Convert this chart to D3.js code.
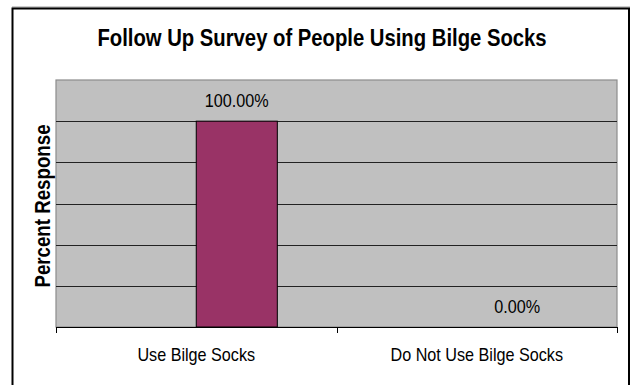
<!DOCTYPE html>
<html>
<head>
<meta charset="utf-8">
<script src="https://cdn.jsdelivr.net/npm/d3@7"></script>
<style>
  html, body { margin: 0; padding: 0; background: #fff; }
  svg { display: block; }
  text { font-family: "Liberation Sans", Arial, sans-serif; fill: #000; }
</style>
</head>
<body>
<svg id="chart" width="631" height="385"></svg>
<script>
const title = "Follow Up Survey of People Using Bilge Socks";
const yAxisTitle = "Percent Response";
const categories = ["Use Bilge Socks", "Do Not Use Bilge Socks"];
const seriesNames = ["Blank", "Response"];
const blankValues = [null, null];
const responseValues = [1.0, 0.0];
const yGridValues = [0, 0.2, 0.4, 0.6, 0.8, 1.0, 1.2];

const svg = d3.select("#chart");
const plot = { left: 56, top: 80, right: 617, bottom: 327 };
const SQ = 0.87; // horizontal squeeze of the original rendering

// outer frame
svg.append("line").attr("x1", 12).attr("x2", 630).attr("y1", 7).attr("y2", 7)
  .attr("stroke", "#9a9a9a").attr("stroke-width", 1);
svg.append("rect").attr("x", 12.5).attr("y", 8.5).attr("width", 616.5).attr("height", 400)
  .attr("fill", "none").attr("stroke", "#000").attr("stroke-width", 2);

const x0 = d3.scaleBand().domain(categories).range([plot.left, plot.right]).padding(0);
const x1 = d3.scaleBand().domain(seriesNames).range([0, x0.bandwidth()]).paddingInner(0).paddingOuter(0.73);
const y = d3.scaleLinear().domain([0, 1.2]).range([plot.bottom, plot.top]);

// plot background
svg.append("rect").attr("x", plot.left).attr("y", plot.top)
  .attr("width", plot.right - plot.left).attr("height", plot.bottom - plot.top)
  .attr("fill", "#c0c0c0").attr("stroke", "#8c8c8c").attr("stroke-width", 1.2);

// gridlines
svg.append("g").selectAll("line").data(yGridValues.filter(v => v > 0 && v < 1.2)).join("line")
  .attr("x1", plot.left).attr("x2", plot.right)
  .attr("y1", d => Math.round(y(d)) + 0.5).attr("y2", d => Math.round(y(d)) + 0.5)
  .attr("stroke", "#222").attr("stroke-width", 1);

// bars
const data = categories.map((c, i) => ({ cat: c, series: [
  { name: seriesNames[0], value: blankValues[i] },
  { name: seriesNames[1], value: responseValues[i] }
]}));

const groups = svg.append("g").selectAll("g").data(data).join("g")
  .attr("transform", d => `translate(${x0(d.cat)},0)`);

groups.selectAll("rect").data(d => d.series.filter(s => s.value != null && s.value > 0)).join("rect")
  .attr("x", s => x1(s.name))
  .attr("y", s => y(s.value))
  .attr("width", x1.bandwidth())
  .attr("height", s => y(0) - y(s.value))
  .attr("fill", "#993366").attr("stroke", "#000").attr("stroke-width", 1);

const fmt = d3.format(".2%");
groups.selectAll("text.val").data(d => d.series.filter(s => s.value != null)).join("text")
  .attr("class", "val")
  .attr("transform", s => `translate(${x1(s.name) + x1.bandwidth() / 2},${y(s.value) - 14.3}) scale(${SQ},1)`)
  .attr("text-anchor", "middle")
  .style("font-size", "18.6px")
  .text(s => fmt(s.value));

// x axis
const gx = svg.append("g").attr("transform", `translate(0,${plot.bottom})`);
gx.append("line").attr("x1", plot.left).attr("x2", plot.right).attr("y1", 0.5).attr("y2", 0.5)
  .attr("stroke", "#000").attr("stroke-width", 1);
const tickPositions = [plot.left].concat(categories.map(c => x0(c) + x0.bandwidth()));
gx.selectAll("line.tick").data(tickPositions).join("line").attr("class", "tick")
  .attr("x1", d => Math.round(d) + 0.5).attr("x2", d => Math.round(d) + 0.5)
  .attr("y1", 0).attr("y2", 6).attr("stroke", "#000");
gx.selectAll("text").data(categories).join("text")
  .attr("transform", d => `translate(${x0(d) + x0.bandwidth() / 2},33.5) scale(${SQ},1)`)
  .attr("text-anchor", "middle")
  .style("font-size", "18.6px")
  .text(d => d);

// title
svg.append("text").attr("transform", `translate(322,46) scale(${SQ},1)`).attr("text-anchor", "middle")
  .style("font-size", "23.3px").style("font-weight", "bold")
  .text(title);

// y title
svg.append("text")
  .attr("transform", `translate(50,206) rotate(-90) scale(${SQ},1)`)
  .attr("text-anchor", "middle")
  .style("font-size", "21.5px").style("font-weight", "bold")
  .text(yAxisTitle);
</script>
</body>
</html>
